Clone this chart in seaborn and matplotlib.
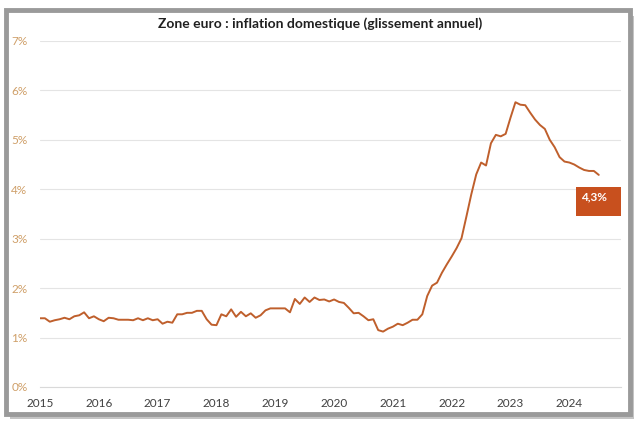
import numpy as np
import pandas as pd
import matplotlib.pyplot as plt
import seaborn as sns
from matplotlib.patches import Rectangle

sns.set_style("white")
plt.rcParams['font.family'] = ['Lato', 'DejaVu Sans']

# monthly domestic inflation, euro area, Jan 2015 - Jul 2024 (% y/y)
y2015 = [1.39, 1.39, 1.32, 1.35, 1.37, 1.40, 1.37, 1.43, 1.45, 1.51, 1.39, 1.43]
y2016 = [1.37, 1.33, 1.40, 1.39, 1.36, 1.36, 1.36, 1.35, 1.39, 1.35, 1.39, 1.35]
y2017 = [1.37, 1.28, 1.32, 1.30, 1.47, 1.47, 1.50, 1.50, 1.54, 1.54, 1.37, 1.26]
y2018 = [1.25, 1.47, 1.43, 1.57, 1.42, 1.52, 1.43, 1.49, 1.40, 1.45, 1.55, 1.59]
y2019 = [1.59, 1.59, 1.59, 1.51, 1.78, 1.68, 1.81, 1.72, 1.81, 1.76, 1.77, 1.73]
y2020 = [1.77, 1.72, 1.70, 1.60, 1.49, 1.50, 1.43, 1.35, 1.37, 1.15, 1.12, 1.18]
y2021 = [1.22, 1.28, 1.25, 1.30, 1.36, 1.36, 1.47, 1.84, 2.05, 2.11, 2.31, 2.48]
y2022 = [2.64, 2.81, 3.01, 3.45, 3.90, 4.30, 4.54, 4.48, 4.93, 5.10, 5.07, 5.12]
y2023 = [5.45, 5.76, 5.71, 5.70, 5.55, 5.41, 5.30, 5.22, 5.00, 4.85, 4.65, 4.56]
y2024 = [4.54, 4.50, 4.44, 4.39, 4.37, 4.37, 4.29]

values = y2015 + y2016 + y2017 + y2018 + y2019 + y2020 + y2021 + y2022 + y2023 + y2024
dates = 2015 + np.arange(len(values)) / 12
years = list(range(2015, 2025))
yticks = list(range(0, 8))
last_label = "4,3%"

df = pd.DataFrame({"date": dates, "inflation": values})

line_color = "#bf5f2c"
box_color = "#c8501e"
ytick_color = "#cf9f68"

fig = plt.figure(figsize=(6.4, 4.22), dpi=100)
fig.patch.set_facecolor("white")

# chart frame with shadow
fig.patches.append(Rectangle((0.016, 0.006), 0.975, 0.957, transform=fig.transFigure,
                             facecolor="#c4c4c4", edgecolor="none", zorder=0))
fig.patches.append(Rectangle((0.009, 0.019), 0.975, 0.957, transform=fig.transFigure,
                             facecolor="white", edgecolor="#9a9a9a", linewidth=3.5, zorder=1))

ax = fig.add_axes([0.0625, 0.083, 0.908, 0.82])
ax.set_zorder(5)
ax.set_facecolor("none")
sns.lineplot(data=df, x="date", y="inflation", ax=ax, color=line_color, linewidth=1.4)

ax.set_xlim(2015, 2024.88)
ax.set_ylim(0, 7)
ax.set_yticks(yticks)
ax.set_yticklabels([f"{t}%" for t in yticks], color=ytick_color, fontsize=8.5)
ax.set_xticks(years)
ax.set_xticklabels([str(y) for y in years], color="#404040", fontsize=8.5)
ax.yaxis.grid(True, color="#e4e4e4", linewidth=0.8)
ax.xaxis.grid(False)
for s in ["top", "right", "left"]:
    ax.spines[s].set_visible(False)
ax.spines["bottom"].set_color("#d9d9d9")
ax.tick_params(axis="x", length=4, color="#d9d9d9", pad=4)
ax.tick_params(axis="y", length=0, pad=9)
ax.set_xlabel("")
ax.set_ylabel("")

# label box for last value
ax.add_patch(Rectangle((2024.12, 3.46), 0.76, 0.59, facecolor=box_color, edgecolor="none", zorder=3))
ax.text(2024.2, 3.96, last_label, color="white", fontsize=8.5, fontweight="bold",
        va="top", ha="left", zorder=4)

fig.text(0.5, 0.945, "Zone euro : inflation domestique (glissement annuel)",
         ha="center", va="center", fontsize=10, fontweight="bold", color="#202020", zorder=6)

fig.savefig("out.png", dpi=100)
